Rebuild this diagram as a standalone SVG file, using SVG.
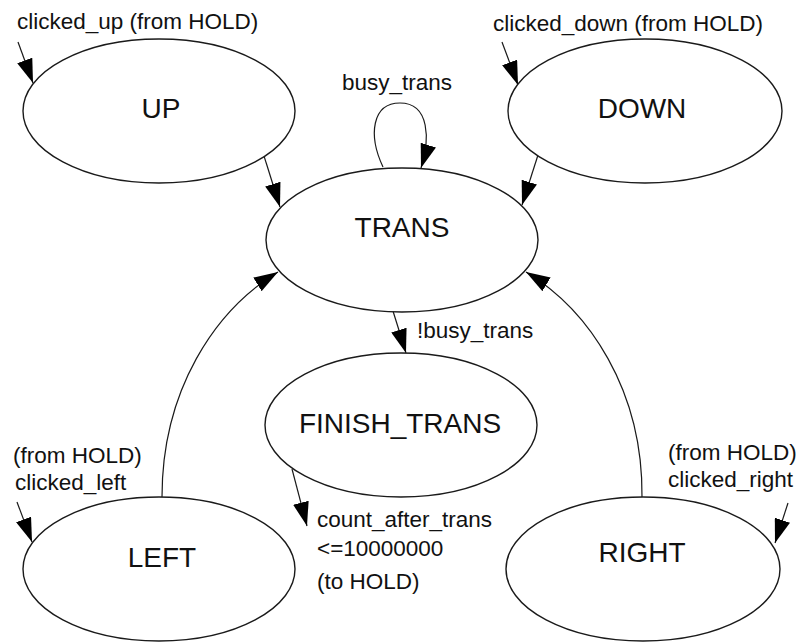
<svg xmlns="http://www.w3.org/2000/svg" width="799" height="643" viewBox="0 0 799 643">
  <defs>
    <style>
      .state ellipse { fill: #ffffff; stroke: #1a1a1a; stroke-width: 1.4; }
      .state text { font-family: "Liberation Sans", Arial, sans-serif; font-size: 28px; fill: #111; text-anchor: middle; }
      .edge { fill: none; stroke: #1a1a1a; stroke-width: 1.2; marker-end: url(#arrow); }
      .lbl { font-family: "Liberation Sans", Arial, sans-serif; font-size: 22.5px; fill: #111; }
    </style>
    <marker id="arrow" viewBox="0 0 24 16" refX="24" refY="8" markerWidth="24" markerHeight="16" markerUnits="userSpaceOnUse" orient="auto">
      <path d="M0,0 L24,8 L0,16 Z" fill="#000"/>
    </marker>
  </defs>

  <rect width="799" height="643" fill="#ffffff"/>

  <!-- transitions -->
  <g id="connectors">
    <path class="edge" d="M18,42 L33,83"/>
    <path class="edge" d="M264,156 L280,207"/>
    <path class="edge" d="M502,42 L518,85"/>
    <path class="edge" d="M538,155 L522,205"/>
    <path class="edge" d="M383,167 C368,135 372,103 400,103 C430,103 430,140 421,168"/>
    <path class="edge" d="M393,311 L406,353"/>
    <path class="edge" d="M292,469 L307,526"/>
    <path class="edge" d="M162,497 C162,390 215,310 278,272"/>
    <path class="edge" d="M642,497 C643,390 589,310 526,272"/>
    <path class="edge" d="M17,502 L32,542"/>
    <path class="edge" d="M788,503 L775,543"/>
  </g>

  <!-- transition labels -->
  <g id="labels">
    <text class="lbl" x="17" y="29">clicked_up (from HOLD)</text>
    <text class="lbl" x="493" y="31">clicked_down (from HOLD)</text>
    <text class="lbl" x="342" y="90">busy_trans</text>
    <text class="lbl" x="417" y="338">!busy_trans</text>
    <text class="lbl" x="317" y="527">count_after_trans</text>
    <text class="lbl" x="317" y="556">&lt;=10000000</text>
    <text class="lbl" x="317" y="589">(to HOLD)</text>
    <text class="lbl" x="13" y="463">(from HOLD)</text>
    <text class="lbl" x="15" y="490">clicked_left</text>
    <text class="lbl" x="668" y="460">(from HOLD)</text>
    <text class="lbl" x="668" y="487">clicked_right</text>
  </g>

  <!-- states -->
  <g id="UP" class="state">
    <ellipse cx="159" cy="111" rx="136" ry="72"/>
    <text x="161" y="118">UP</text>
  </g>
  <g id="DOWN" class="state">
    <ellipse cx="645" cy="111" rx="137" ry="72"/>
    <text x="642" y="118">DOWN</text>
  </g>
  <g id="TRANS" class="state">
    <ellipse cx="402" cy="240" rx="136" ry="72"/>
    <text x="402" y="237">TRANS</text>
  </g>
  <g id="FINISH_TRANS" class="state">
    <ellipse cx="401" cy="425" rx="136" ry="72"/>
    <text x="400" y="433">FINISH_TRANS</text>
  </g>
  <g id="LEFT" class="state">
    <ellipse cx="159" cy="569" rx="136" ry="72"/>
    <text x="162" y="567">LEFT</text>
  </g>
  <g id="RIGHT" class="state">
    <ellipse cx="643" cy="569" rx="137" ry="72"/>
    <text x="642" y="562">RIGHT</text>
  </g>
</svg>
